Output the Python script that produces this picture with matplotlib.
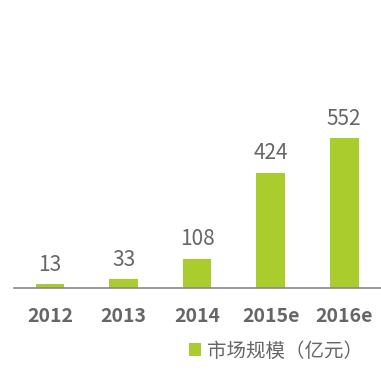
import matplotlib.pyplot as plt

years = ["2012", "2013", "2014", "2015e", "2016e"]
market_size = [13, 33, 108, 424, 552]
legend_label = "市场规模（亿元）"

bar_color = "#AACC2C"
text_color = "#666666"

plt.rcParams['font.family'] = ['Noto Sans CJK SC', 'DejaVu Sans']

fig = plt.figure(figsize=(3.81, 3.84), dpi=100)
ax = fig.add_axes([14 / 381, 1 - 288 / 384, 1 - 14 / 381, 288 / 384])

x = range(len(years))
bars = ax.bar(x, market_size, width=0.39, color=bar_color, label=legend_label)

for xi, v in zip(x, market_size):
    ax.annotate(str(v), (xi, v), xytext=(0, 6), textcoords="offset points",
                ha="center", va="bottom", fontsize=15, color=text_color,
                fontweight="light")

ax.set_xlim(-0.49, 4.5)
ax.set_ylim(0, 552 * 288 / 150)

for s in ["top", "right", "left"]:
    ax.spines[s].set_visible(False)
ax.spines["bottom"].set_color("#888888")
ax.spines["bottom"].set_linewidth(1.2)

ax.set_yticks([])
ax.set_xticks(list(x))
ax.set_xticklabels(years, fontsize=14, fontweight="bold", color=text_color)
ax.tick_params(axis="x", length=0, pad=14)

fig.legend(handles=[bars], labels=[legend_label], loc="center",
           bbox_to_anchor=(276 / 381, 1 - 351 / 384), frameon=False,
           labelcolor=text_color, handlelength=0.6,
           handleheight=0.6, handletextpad=0.3,
           prop={"weight": "light", "size": 14})

fig.savefig("out.png", dpi=100)
